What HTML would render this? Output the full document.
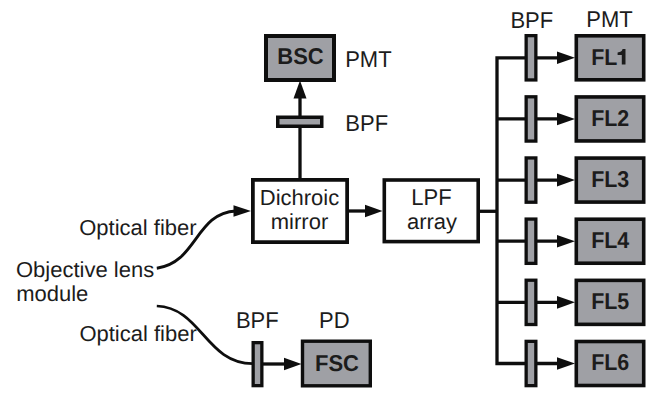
<!DOCTYPE html>
<html><head><meta charset="utf-8"><style>
html,body{margin:0;padding:0;background:#fff;}
body{width:669px;height:407px;overflow:hidden;}
svg{display:block;}
text{text-rendering:geometricPrecision;font-family:"Liberation Sans",sans-serif;font-size:22px;fill:#1c1c1c;}
</style></head><body>
<svg width="669" height="407" viewBox="0 0 669 407">
<rect width="669" height="407" fill="#fff"/>
<rect x="266.00" y="36.00" width="68.00" height="44.00" fill="#9fa0a5" stroke="#0e0e0e" stroke-width="4"/>
<line x1="300" y1="180" x2="300" y2="96" stroke="#0e0e0e" stroke-width="3.3"/>
<path d="M293.5,98.5 L300,80.5 L306.5,98.5 Z" fill="#0e0e0e"/>
<rect x="277.75" y="117.25" width="44.00" height="9.00" fill="#9fa0a5" stroke="#0e0e0e" stroke-width="3.5"/>
<rect x="252.88" y="179.88" width="94.25" height="62.25" fill="#fff" stroke="#0e0e0e" stroke-width="3.75"/>
<line x1="349" y1="211" x2="367" y2="211" stroke="#0e0e0e" stroke-width="3.3"/>
<path d="M365,204.75 L382.5,211 L365,217.25 Z" fill="#0e0e0e"/>
<rect x="384.30" y="180.00" width="93.90" height="61.60" fill="#fff" stroke="#0e0e0e" stroke-width="3.6"/>
<line x1="480" y1="211.3" x2="497" y2="211.3" stroke="#0e0e0e" stroke-width="3.3"/>
<path d="M557,57.80 H497 V363.50 H557" fill="none" stroke="#0e0e0e" stroke-width="3.3"/>
<rect x="526.15" y="35.65" width="9.70" height="44.30" fill="#9fa0a5" stroke="#0e0e0e" stroke-width="3.3"/>
<path d="M557,51.5 L575,57.8 L557,64.1 Z" fill="#0e0e0e"/>
<rect x="576.30" y="35.80" width="67.40" height="44.00" fill="#9fa0a5" stroke="#0e0e0e" stroke-width="3.6"/>
<text transform="translate(591.2,64.6) scale(0.975,1.04)" text-anchor="start" font-weight="bold">FL</text>
<path d="M621.8,64.40 L625.5,64.40 L625.5,49.10 L622.6,49.10 C622.1,51.30 620.5,52.30 617.6,52.50 L617.6,55.00 L621.8,55.00 Z" fill="#1c1c1c"/>
<line x1="497" y1="118.94" x2="558" y2="118.94" stroke="#0e0e0e" stroke-width="3.3"/>
<rect x="526.15" y="96.79" width="9.70" height="44.30" fill="#9fa0a5" stroke="#0e0e0e" stroke-width="3.3"/>
<path d="M557,112.64 L575,118.94 L557,125.24 Z" fill="#0e0e0e"/>
<rect x="576.30" y="96.94" width="67.40" height="44.00" fill="#9fa0a5" stroke="#0e0e0e" stroke-width="3.6"/>
<text transform="translate(610.2,125.64) scale(0.975,1.04)" text-anchor="middle" font-weight="bold">FL2</text>
<line x1="497" y1="180.08" x2="558" y2="180.08" stroke="#0e0e0e" stroke-width="3.3"/>
<rect x="526.15" y="157.93" width="9.70" height="44.30" fill="#9fa0a5" stroke="#0e0e0e" stroke-width="3.3"/>
<path d="M557,173.78 L575,180.08 L557,186.38000000000002 Z" fill="#0e0e0e"/>
<rect x="576.30" y="158.08" width="67.40" height="44.00" fill="#9fa0a5" stroke="#0e0e0e" stroke-width="3.6"/>
<text transform="translate(610.2,186.78) scale(0.975,1.04)" text-anchor="middle" font-weight="bold">FL3</text>
<line x1="497" y1="241.22" x2="558" y2="241.22" stroke="#0e0e0e" stroke-width="3.3"/>
<rect x="526.15" y="219.07" width="9.70" height="44.30" fill="#9fa0a5" stroke="#0e0e0e" stroke-width="3.3"/>
<path d="M557,234.92 L575,241.22 L557,247.52 Z" fill="#0e0e0e"/>
<rect x="576.30" y="219.22" width="67.40" height="44.00" fill="#9fa0a5" stroke="#0e0e0e" stroke-width="3.6"/>
<text transform="translate(610.2,247.92) scale(0.975,1.04)" text-anchor="middle" font-weight="bold">FL4</text>
<line x1="497" y1="302.36" x2="558" y2="302.36" stroke="#0e0e0e" stroke-width="3.3"/>
<rect x="526.15" y="280.21" width="9.70" height="44.30" fill="#9fa0a5" stroke="#0e0e0e" stroke-width="3.3"/>
<path d="M557,296.06 L575,302.36 L557,308.66 Z" fill="#0e0e0e"/>
<rect x="576.30" y="280.36" width="67.40" height="44.00" fill="#9fa0a5" stroke="#0e0e0e" stroke-width="3.6"/>
<text transform="translate(610.2,309.06) scale(0.975,1.04)" text-anchor="middle" font-weight="bold">FL5</text>
<rect x="526.15" y="341.35" width="9.70" height="44.30" fill="#9fa0a5" stroke="#0e0e0e" stroke-width="3.3"/>
<path d="M557,357.2 L575,363.5 L557,369.8 Z" fill="#0e0e0e"/>
<rect x="576.30" y="341.50" width="67.40" height="44.00" fill="#9fa0a5" stroke="#0e0e0e" stroke-width="3.6"/>
<text transform="translate(610.2,370.2) scale(0.975,1.04)" text-anchor="middle" font-weight="bold">FL6</text>
<path d="M156.8,268.2 C196.8,263.2 195.6,212.7 236,211" fill="none" stroke="#0e0e0e" stroke-width="2.9"/>
<path d="M233.5,205.2 L251,211 L233.5,216.8 Z" fill="#0e0e0e"/>
<path d="M156.8,306 C201.3,307.6 205.9,363.9 253,363.6" fill="none" stroke="#0e0e0e" stroke-width="2.7"/>
<rect x="253.15" y="342.65" width="8.70" height="43.00" fill="#9fa0a5" stroke="#0e0e0e" stroke-width="3.3"/>
<line x1="263" y1="364" x2="286" y2="364" stroke="#0e0e0e" stroke-width="3.3"/>
<path d="M284,357.7 L301.5,364 L284,370.3 Z" fill="#0e0e0e"/>
<rect x="302.50" y="341.20" width="67.80" height="44.60" fill="#9fa0a5" stroke="#0e0e0e" stroke-width="3.4"/>
<text transform="translate(337,370.8) scale(1.0,1.04)" text-anchor="middle" font-weight="bold">FSC</text>
<text transform="translate(300.5,64.2) scale(1.0,1.04)" text-anchor="middle" font-weight="bold">BSC</text>
<text transform="translate(531.8,27.5) scale(1.0,1.04)" text-anchor="middle">BPF</text>
<text transform="translate(609.5,26.8) scale(1.0,1.04)" text-anchor="middle">PMT</text>
<text transform="translate(345.2,66.6) scale(1.0,1.04)" text-anchor="start">PMT</text>
<text transform="translate(345.3,130.5) scale(1.0,1.04)" text-anchor="start">BPF</text>
<text transform="translate(299.5,204.8) scale(1.0,0.985)" text-anchor="middle">Dichroic</text>
<text transform="translate(299.5,229) scale(1.0,0.985)" text-anchor="middle">mirror</text>
<text transform="translate(431.5,204.8) scale(1.0,1.04)" text-anchor="middle">LPF</text>
<text transform="translate(432,229) scale(1.0,0.985)" text-anchor="middle">array</text>
<text transform="translate(79.2,235.2) scale(1.0,0.985)" text-anchor="start">Optical fiber</text>
<text transform="translate(16.0,277.0) scale(1.0,0.985)" text-anchor="start">Objective lens</text>
<text transform="translate(16.2,301.2) scale(1.0,0.985)" text-anchor="start">module</text>
<text transform="translate(79.4,340.8) scale(1.0,0.985)" text-anchor="start">Optical fiber</text>
<text transform="translate(257.3,327.8) scale(1.0,1.04)" text-anchor="middle">BPF</text>
<text transform="translate(334.4,327.6) scale(1.0,1.04)" text-anchor="middle">PD</text>
</svg>
</body></html>
